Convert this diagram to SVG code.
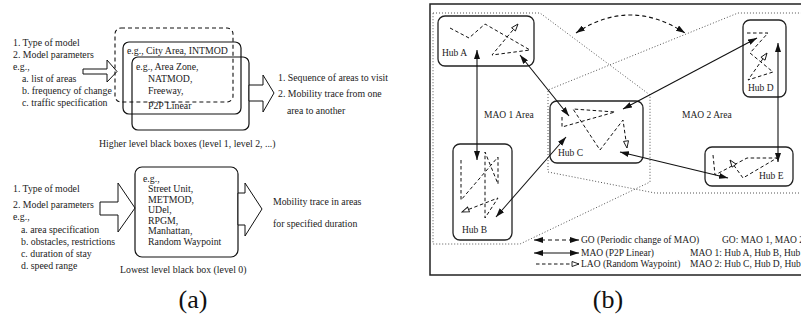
<svg xmlns="http://www.w3.org/2000/svg" width="801" height="324" viewBox="0 0 801 324">
  <style>
    .ta { font-family: "Liberation Serif", "Times New Roman", serif; font-size: 9.8px; fill: #1a1a1a; }
    .tb { font-family: "Liberation Serif", "Times New Roman", serif; font-size: 9.5px; fill: #1a1a1a; }
    .cap { font-family: "Liberation Serif", "Times New Roman", serif; font-size: 26px; fill: #111; }
    .box { fill: none; stroke: #111; stroke-width: 1.2; }
    .dbox { fill: none; stroke: #111; stroke-width: 1.1; stroke-dasharray: 4 3; }
    .hollow { fill: #fff; stroke: #111; stroke-width: 1; stroke-linejoin: miter; }
    .hub { fill: none; stroke: #222; stroke-width: 1.3; }
    .area { fill: none; stroke: #555; stroke-width: 1; stroke-dasharray: 1 2; }
    .mao { fill: none; stroke: #111; stroke-width: 1.1; marker-start: url(#fa); marker-end: url(#fa); }
    .go { fill: none; stroke: #111; stroke-width: 1.1; stroke-dasharray: 4 3; marker-start: url(#fa); marker-end: url(#fa); }
    .lao { fill: none; stroke: #111; stroke-width: 1; stroke-dasharray: 3.5 2.5; marker-end: url(#oa); }
  </style>
  <defs>
    <marker id="fa" viewBox="0 0 9 6" refX="9" refY="3" markerWidth="9" markerHeight="6" markerUnits="userSpaceOnUse" orient="auto-start-reverse">
      <path d="M0,0 L9,3 L0,6 z" fill="#111"/>
    </marker>
    <marker id="oa" viewBox="-1 -1 9 7" refX="7" refY="2.5" markerWidth="9" markerHeight="7" markerUnits="userSpaceOnUse" orient="auto">
      <path d="M0,0 L7,2.5 L0,5 z" fill="#fff" stroke="#111" stroke-width="0.9"/>
    </marker>
  </defs>

  <!-- (a) higher level black boxes -->
  <g id="higher-inputs">
    <text class="ta" x="13" y="46">1. Type of model</text>
    <text class="ta" x="13" y="58">2. Model parameters</text>
    <text class="ta" x="13" y="70">e.g.,</text>
    <text class="ta" x="22" y="82">a. list of areas</text>
    <text class="ta" x="22" y="94">b. frequency of change</text>
    <text class="ta" x="22" y="106">c. traffic specification</text>
  </g>
  <g id="higher-in-arrow">
    <polygon class="hollow" points="83,69 107,69 107,60 117,71.5 107,82 107,74 83,74"/>
  </g>
  <g id="higher-boxes">
    <rect class="dbox" x="115" y="28" width="118" height="74" rx="6"/>
    <rect class="box" x="123" y="42" width="118" height="72" rx="6"/>
    <rect class="box" x="132" y="57" width="117" height="73" rx="6"/>
    <text class="ta" x="127" y="54">e.g., City Area, INTMOD</text>
    <text class="ta" x="136" y="70">e.g., Area Zone,</text>
    <text class="ta" x="148" y="82">NATMOD,</text>
    <text class="ta" x="148" y="94">Freeway,</text>
    <text class="ta" x="148" y="109">P2P Linear</text>
    <text class="ta" x="99" y="147">Higher level black boxes (level 1, level 2, ...)</text>
  </g>
  <g id="higher-out-arrow">
    <polygon class="hollow" points="249,85 263,85 263,75 274,93 263,112 263,101 249,101"/>
  </g>
  <g id="higher-outputs">
    <text class="ta" x="278" y="81">1. Sequence of areas to visit</text>
    <text class="ta" x="278" y="97">2. Mobility trace from one</text>
    <text class="ta" x="287" y="114">area to another</text>
  </g>

  <!-- (a) lowest level black box -->
  <g id="lowest-inputs">
    <text class="ta" x="13" y="192">1. Type of model</text>
    <text class="ta" x="13" y="208">2. Model parameters</text>
    <text class="ta" x="13" y="220">e.g.,</text>
    <text class="ta" x="21" y="233">a. area specification</text>
    <text class="ta" x="21" y="245">b. obstacles, restrictions</text>
    <text class="ta" x="21" y="257">c. duration of stay</text>
    <text class="ta" x="21" y="269">d. speed range</text>
  </g>
  <g id="lowest-in-arrow">
    <polygon class="hollow" points="100,202 118,202 118,183 135,208 118,232 118,215 100,215"/>
  </g>
  <g id="lowest-box">
    <rect class="box" x="135" y="167" width="103" height="90" rx="7"/>
    <text class="ta" x="143" y="181.5">e.g.,</text>
    <text class="ta" x="148" y="192">Street Unit,</text>
    <text class="ta" x="148" y="202.5">METMOD,</text>
    <text class="ta" x="148" y="213">UDel,</text>
    <text class="ta" x="148" y="223.5">RPGM,</text>
    <text class="ta" x="148" y="234">Manhattan,</text>
    <text class="ta" x="148" y="244.5">Random Waypoint</text>
    <text class="ta" x="120" y="273">Lowest level black box (level 0)</text>
  </g>
  <g id="lowest-out-arrow">
    <polygon class="hollow" points="238,193 245,193 245,183 262,209 245,236 245,225 238,225"/>
  </g>
  <g id="lowest-outputs">
    <text class="ta" x="273" y="205">Mobility trace in areas</text>
    <text class="ta" x="273" y="227">for specified duration</text>
  </g>

  <!-- (b) hierarchical mobility map -->
  <g id="frame">
    <rect x="430" y="4" width="390" height="271" fill="none" stroke="#222" stroke-width="1.5"/>
  </g>
  <g id="areas">
    <polygon class="area" points="433,13 540,13 650,95 650,182 520,244 433,244"/>
    <polyline class="area" points="820,193 655,193 548,172 548,90 738,13 820,13"/>
    <text class="tb" x="484" y="118">MAO 1 Area</text>
    <text class="tb" x="682" y="118">MAO 2 Area</text>
  </g>

  <g id="hub-a">
    <rect class="hub" x="438" y="16" width="96" height="50" rx="7"/>
    <polyline class="lao" points="450,28 469,38 485,24 530,50 492,55 518,24"/>
    <text class="tb" x="442" y="56">Hub A</text>
  </g>
  <g id="hub-b">
    <rect class="hub" x="453" y="144" width="59" height="96" rx="7"/>
    <polyline class="lao" points="461,160 461,200 498,157 498,184 485,152 485,218 498,198 462,212"/>
    <text class="tb" x="462" y="233">Hub B</text>
  </g>
  <g id="hub-c">
    <rect class="hub" x="550" y="101" width="93" height="62" rx="7"/>
    <polyline class="lao" points="562,117 562,127 615,112 573,109 600,150 623,120 627,148"/>
    <text class="tb" x="558" y="156">Hub C</text>
  </g>
  <g id="hub-d">
    <rect class="hub" x="743" y="20" width="43" height="77" rx="7"/>
    <polyline class="lao" points="747,33 768,33 750,53 773,72 748,80 767,53"/>
    <text class="tb" x="748" y="91">Hub D</text>
  </g>
  <g id="hub-e">
    <rect class="hub" x="705" y="147" width="88" height="39" rx="7"/>
    <polyline class="lao" points="713,155 715,175 747,158 777,158 743,178 730,160"/>
    <text class="tb" x="759" y="179">Hub E</text>
  </g>

  <g id="connectors">
    <path class="go" d="M576,33 Q630,-3 685,33"/>
    <line class="mao" x1="477" y1="50" x2="477" y2="160"/>
    <line class="mao" x1="520" y1="55" x2="569" y2="116"/>
    <line class="mao" x1="496" y1="217" x2="566" y2="137"/>
    <line class="mao" x1="623" y1="109" x2="757" y2="38"/>
    <line class="mao" x1="620" y1="152" x2="728" y2="178"/>
    <line class="mao" x1="778" y1="43" x2="778" y2="162"/>
  </g>

  <g id="legend">
    <line class="go" x1="534" y1="240" x2="579" y2="240"/>
    <text class="tb" x="581" y="243">GO (Periodic change of MAO)</text>
    <line class="mao" x1="534" y1="253" x2="579" y2="253"/>
    <text class="tb" x="581" y="256">MAO (P2P Linear)</text>
    <line class="lao" x1="536" y1="264" x2="579" y2="264"/>
    <text class="tb" x="581" y="267">LAO (Random Waypoint)</text>
    <text class="tb" x="722" y="243">GO: MAO 1, MAO 2</text>
    <text class="tb" x="690" y="256">MAO 1: Hub A, Hub B, Hub C</text>
    <text class="tb" x="690" y="267">MAO 2: Hub C, Hub D, Hub E</text>
  </g>

  <g id="captions">
    <text class="cap" x="193" y="308" text-anchor="middle">(a)</text>
    <text class="cap" x="608" y="308" text-anchor="middle">(b)</text>
  </g>
</svg>
